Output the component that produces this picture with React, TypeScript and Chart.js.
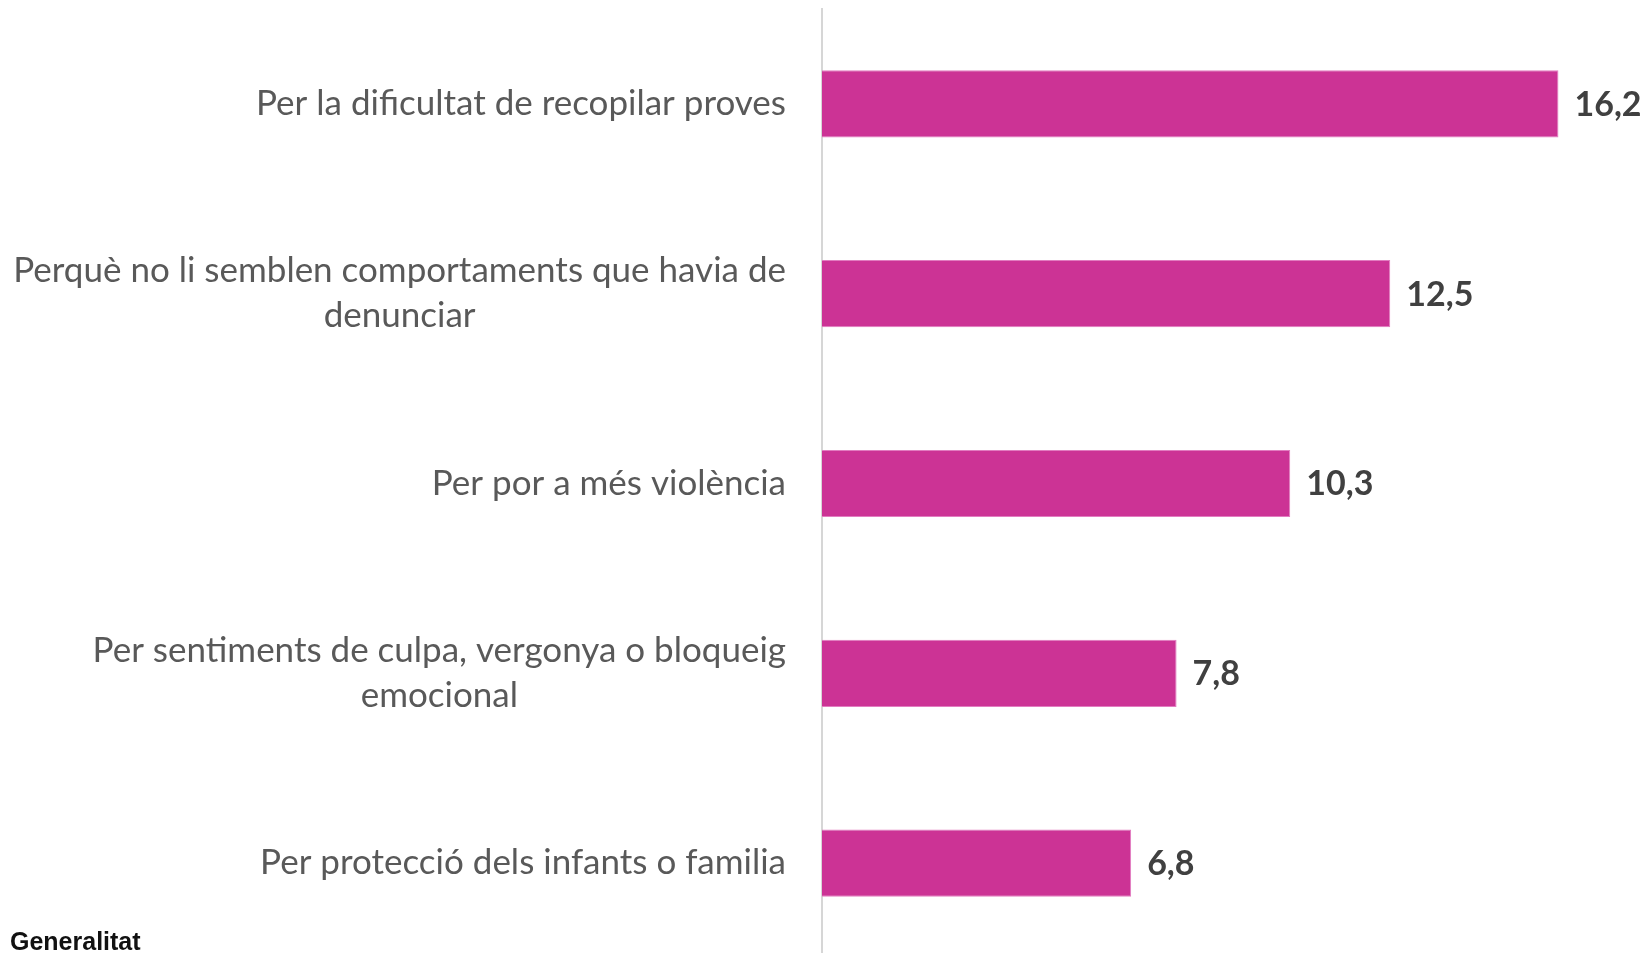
import React, { useEffect, useRef } from "react";
import { Chart, registerables } from "chart.js";

Chart.register(...registerables);

const categories: string[][] = [
  ["Per la dificultat de recopilar proves"],
  ["Perquè no li semblen comportaments que havia de", "denunciar"],
  ["Per por a més violència"],
  ["Per sentiments de culpa, vergonya o bloqueig", "emocional"],
  ["Per protecció dels infants o familia"],
];
const values: number[] = [16.2, 12.5, 10.3, 7.8, 6.8];
const xMax = 17.95;
const footerText = "Generalitat";

const BAR_COLOR = "#CC3395";
const LABEL_COLOR = "#595959";
const VALUE_COLOR = "#404040";
const FONT = "Lato, 'Open Sans', 'Noto Sans', sans-serif";

const W = 1644;
const H = 962;

const drawPlugin = {
  id: "customText",
  afterDraw(chart: any) {
    const ctx = chart.ctx;
    const yScale = chart.scales.y;
    const area = chart.chartArea;
    ctx.save();
    // category labels
    ctx.font = `35px ${FONT}`;
    ctx.fillStyle = LABEL_COLOR;
    ctx.textBaseline = "middle";
    ctx.textAlign = "center";
    const rightEdge = area.left - 36;
    const lineH = 45;
    categories.forEach((lines, i) => {
      const y = yScale.getPixelForValue(i);
      const widths = lines.map((l) => ctx.measureText(l).width);
      const bw = Math.max(...widths);
      const cx = rightEdge - bw / 2;
      const startY = y - ((lines.length - 1) * lineH) / 2;
      lines.forEach((l, j) => {
        ctx.fillText(l, cx, startY + j * lineH);
      });
    });
    // value labels
    const meta = chart.getDatasetMeta(0);
    ctx.font = `bold 34px ${FONT}`;
    ctx.fillStyle = VALUE_COLOR;
    ctx.textAlign = "left";
    meta.data.forEach((bar: any, i: number) => {
      const txt = values[i].toFixed(1).replace(".", ",");
      ctx.fillText(txt, bar.x + 16, bar.y + 1);
    });
    // footer
    ctx.font = "bold 25px 'Liberation Sans', Arial, sans-serif";
    ctx.fillStyle = "#111111";
    ctx.textBaseline = "alphabetic";
    ctx.fillText(footerText, 10, 950);
    ctx.restore();
  },
};

export default function App() {
  const ref = useRef<HTMLCanvasElement>(null);
  useEffect(() => {
    if (!ref.current) return;
    const chart = new Chart(ref.current, {
      type: "bar",
      data: {
        labels: categories.map((c) => c.join(" ")),
        datasets: [
          {
            data: values,
            backgroundColor: BAR_COLOR,
            borderColor: "#E27CC0",
            borderWidth: 1,
            barPercentage: 0.354,
            categoryPercentage: 1,
          },
        ],
      },
      options: {
        indexAxis: "y",
        responsive: false,
        animation: false,
        devicePixelRatio: 1,
        layout: { padding: { left: 814, right: 6, top: 9, bottom: 4 } },
        plugins: {
          legend: { display: false },
          tooltip: { enabled: false },
        },
        scales: {
          x: {
            display: false,
            min: 0,
            max: xMax,
          },
          y: {
            display: true,
            grid: { display: false },
            ticks: { display: false },
            border: { display: true, color: "#D6D6D6", width: 2 },
          },
        },
      },
      plugins: [drawPlugin],
    });
    return () => chart.destroy();
  }, []);
  return (
    <div
      style={{
        position: "fixed",
        left: 0,
        top: 0,
        width: W,
        height: 953,
        overflow: "hidden",
        background: "#fff",
      }}
    >
      <canvas ref={ref} width={W} height={H} style={{ width: W, height: H, display: "block" }} />
    </div>
  );
}
